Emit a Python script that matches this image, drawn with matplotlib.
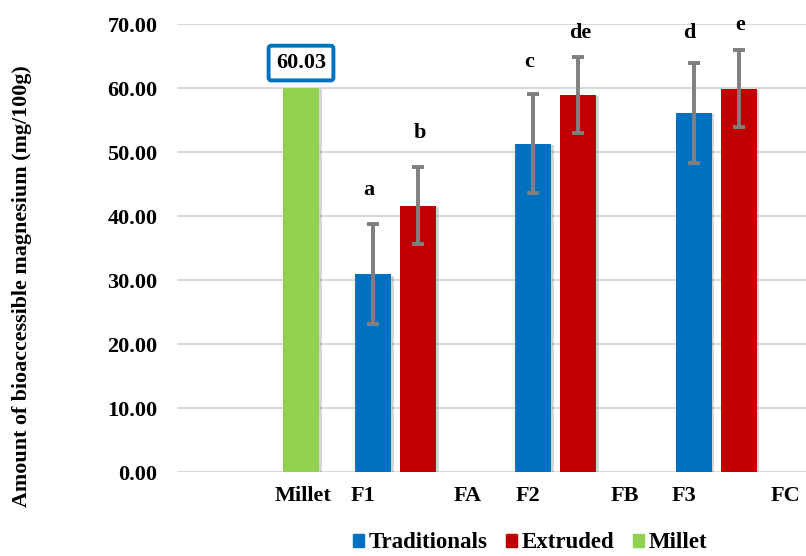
import matplotlib
matplotlib.use("Agg")
import matplotlib.pyplot as plt
import matplotlib.patheffects as pe
from matplotlib.patches import Patch

plt.rcParams["font.family"] = ["Liberation Serif", "DejaVu Serif"]
plt.rcParams["font.weight"] = "bold"

# data
formulations = ["F1", "F2", "F3"]
traditional = [30.9, 51.3, 56.1]
traditional_err = [7.8, 7.75, 7.8]
extruded = [41.6, 58.95, 59.9]
extruded_err = [6.0, 5.95, 6.0]
millet_value = 60.03
trad_letters = ["a", "c", "d"]
extr_letters = ["b", "de", "e"]
tick_labels = ["Millet", "F1", "FA", "F2", "FB", "F3", "FC"]

# layout (x axis units)
millet_x = 124
group_x = [218.5, 378.5, 539]
offset = 22.5
bar_w = 36
tick_x = [126, 186, 291, 351, 448, 507, 608]
trad_letter_y = [44.0, 64.1, 68.6]
extr_letter_y = [52.9, 68.6, 69.9]

blue = "#0070C0"
red = "#C00000"
green = "#92D050"
err_col = "#7F7F7F"
fs = 16

fig = plt.figure(figsize=(8.06, 5.56), dpi=100)
ax = fig.add_axes([177 / 806, 84 / 556, 629 / 806, 448 / 556])

shadow = [pe.SimplePatchShadow(offset=(2, -1), shadow_rgbFace="#888888", alpha=0.35), pe.Normal()]

ax.bar(millet_x, millet_value, width=bar_w, color=green, zorder=3, path_effects=shadow)
tx = [g - offset for g in group_x]
ex = [g + offset for g in group_x]
ax.bar(tx, traditional, width=bar_w, color=blue, zorder=3, path_effects=shadow)
ax.bar(ex, extruded, width=bar_w, color=red, zorder=3, path_effects=shadow)

ax.errorbar(tx, traditional, yerr=traditional_err, fmt="none", ecolor=err_col,
            elinewidth=2.8, capsize=4.5, capthick=2.8, zorder=4)
ax.errorbar(ex, extruded, yerr=extruded_err, fmt="none", ecolor=err_col,
            elinewidth=2.8, capsize=4.5, capthick=2.8, zorder=4)

for x, y, s in zip(tx, trad_letter_y, trad_letters):
    ax.text(x - 4, y, s, ha="center", va="center", fontsize=fs, fontweight="bold")
for x, y, s in zip(ex, extr_letter_y, extr_letters):
    ax.text(x + 2, y, s, ha="center", va="center", fontsize=fs, fontweight="bold")

# value box over the millet bar
ax.text(millet_x, 63.9, f"{millet_value:.2f}", ha="center", va="center", fontsize=fs,
        fontweight="bold", zorder=5,
        bbox=dict(boxstyle="round,pad=0.33,rounding_size=0.12", fc="white", ec=blue, lw=2.8))

ax.set_xlim(0, 629)
ax.set_ylim(0, 70)
ax.set_yticks(range(0, 71, 10))
ax.set_yticklabels([f"{v:.2f}" for v in range(0, 71, 10)], fontsize=fs, fontweight="bold")
ax.set_xticks(tick_x)
ax.set_xticklabels(tick_labels, fontsize=fs, fontweight="bold")
ax.tick_params(axis="both", length=0)
ax.tick_params(axis="y", pad=14)
ax.tick_params(axis="x", pad=10)
ax.grid(axis="y", color="#D9D9D9", linewidth=1.5, zorder=0)
ax.set_axisbelow(True)
for sp in ax.spines.values():
    sp.set_visible(False)

fig.text(22 / 806, 1 - 286 / 556, "Amount of bioaccessible magnesium (mg/100g)",
         rotation=90, ha="center", va="center", fontsize=15.8, fontweight="bold")

handles = [Patch(color=blue, label="Traditionals"),
           Patch(color=red, label="Extruded"),
           Patch(color=green, label="Millet")]
fig.legend(handles=handles, loc="center", bbox_to_anchor=(530 / 806, 1 - 543 / 556),
           ncol=3, frameon=False, handlelength=0.5, handleheight=0.5,
           handletextpad=0.2, columnspacing=0.8, prop={"weight": "bold", "size": 16.5})

fig.savefig("out.png", dpi=100)
